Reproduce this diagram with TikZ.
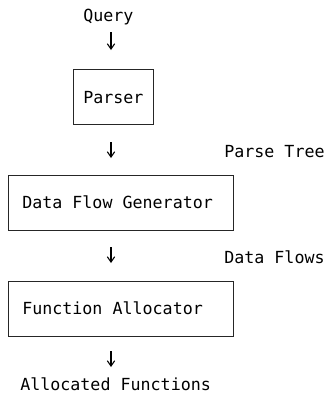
\documentclass[tikz,border=0pt]{standalone}
\usepackage{fontspec}
\setmonofont{DejaVu Sans Mono}
\usetikzlibrary{arrows.meta}
\begin{document}
\begin{tikzpicture}[x=0.75pt,y=-0.75pt,
  txt/.style={font=\ttfamily\fontsize{12.5pt}{15pt}\selectfont, inner sep=0pt, anchor=base west},
  box/.style={draw=black!85, line width=0.6pt, anchor=north west, inner sep=0pt},
  flow/.style={line width=0.8pt, -{Straight Barb[length=4pt,width=5.5pt,line width=0.8pt]}}]
\useasboundingbox (0,0) rectangle (325,397);
% boxes
\node[box, minimum width=60pt, minimum height=41.25pt] (parser) at (73,69) {};
\node[box, minimum width=168.75pt, minimum height=41.25pt] (dfg) at (8,175) {};
\node[box, minimum width=168.75pt, minimum height=41.25pt] (fa) at (8,281) {};
% texts
\node[txt] (query) at (83,21) {Query};
\node[txt] (parsert) at (83,103) {Parser};
\node[txt] (ptree) at (224,157) {Parse Tree};
\node[txt] (dfgt) at (22,208) {Data Flow Generator};
\node[txt] (dflows) at (224,263) {Data Flows};
\node[txt] (fat) at (22,314) {Function Allocator};
\node[txt] (afun) at (20,390) {Allocated Functions};
% arrow coordinates
\coordinate (a1s) at (111,32); \coordinate (a1e) at (111,50);
\coordinate (a2s) at (111,142); \coordinate (a2e) at (111,158);
\coordinate (a3s) at (111,247); \coordinate (a3e) at (111,263);
\coordinate (a4s) at (111,351); \coordinate (a4e) at (111,367);
\draw[flow] (a1s) -- (a1e);
\draw[flow] (a2s) -- (a2e);
\draw[flow] (a3s) -- (a3e);
\draw[flow] (a4s) -- (a4e);
\end{tikzpicture}
\end{document}
